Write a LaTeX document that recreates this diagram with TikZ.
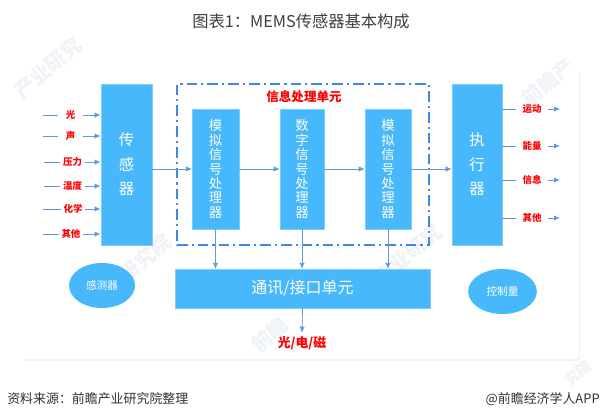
\documentclass[tikz,border=0pt]{standalone}
\usepackage{fontspec}
\setmainfont{Noto Sans CJK SC}
\usetikzlibrary{arrows.meta,shapes.geometric}
\definecolor{boxblue}{HTML}{47B8FB}
\definecolor{linkblue}{HTML}{5F97E2}
\definecolor{dashblue}{HTML}{4387E6}
\definecolor{faint}{HTML}{EDF2F9}
\definecolor{wm}{HTML}{EFF2F6}
\tikzset{
 x=0.75pt,y=-0.75pt,
 bluebox/.style={fill=boxblue,draw=boxblue!70!white,line width=0.4pt,inner sep=0pt,text=white,align=center},
 vtext/.style={font=\fontsize{10pt}{10.8pt}\selectfont},
 bigtext/.style={font=\fontsize{11.5pt}{18.4pt}\selectfont},
 oval/.style={ellipse,fill=boxblue,inner sep=0pt,text=white,font=\fontsize{8pt}{9pt}\selectfont},
 redlab/.style={text=red,font=\fontsize{7.1pt}{8pt}\selectfont\bfseries,inner sep=0pt},
 link/.style={draw=linkblue,line width=0.6pt},
 arrowlink/.style={link,-{Latex[length=4.5pt,width=4pt]}},
 watermark/.style={text=wm,rotate=40,font=\fontsize{15pt}{16pt}\selectfont\bfseries,inner sep=0pt},
}
\begin{document}
\begin{tikzpicture}
\useasboundingbox (0,0) rectangle (601,420);
\fill[white] (0,0) rectangle (601,420);
% frame lines
\coordinate (fa) at (26,360);\coordinate (fb) at (579,360);\coordinate (fc) at (579,72);
\draw[faint,line width=1.6pt] (fa) -- (fb);
\draw[faint,line width=0.7pt] (fb) -- (fc);
% watermarks
\node[watermark] (w1) at (48,68) {产业研究};
\node[watermark] (w3) at (548,82) {前瞻产};
\node[watermark] (w4) at (145,258) {研究院};
\node[watermark] (w5) at (408,255) {产业研究};
\node[watermark] (w6) at (270,335) {前瞻};
\node[watermark,font=\fontsize{11pt}{12pt}\selectfont\bfseries] (w7) at (578,373) {究院};
% title
\node[text=black!75,font=\fontsize{12.2pt}{14pt}\selectfont,inner sep=0pt] (title) at (301,21) {图表1：MEMS传感器基本构成};
% dashed frame
\node[draw=dashblue,line width=1.4pt,dash pattern=on 8pt off 3pt on 1.6pt off 3pt,minimum width=189pt,minimum height=120.75pt,inner sep=0pt] (frame) at (303,164.5) {};
\node[redlab,font=\fontsize{9.4pt}{10pt}\selectfont\bfseries] (frametitle) at (304,96.5) {信息处理单元};
% boxes
\node[bluebox,bigtext,minimum width=38.5pt,minimum height=121pt] (sens) at (126.5,164.5) {传\\感\\器};
\node[bluebox,vtext,minimum width=35pt,minimum height=90pt] (m1) at (215.5,169) {模\\拟\\信\\号\\处\\理\\器};
\node[bluebox,vtext,minimum width=33pt,minimum height=90pt] (d1) at (302,169) {数\\字\\信\\号\\处\\理\\器};
\node[bluebox,vtext,minimum width=34.5pt,minimum height=90pt] (m2) at (388,169) {模\\拟\\信\\号\\处\\理\\器};
\node[bluebox,bigtext,minimum width=37.5pt,minimum height=121pt] (act) at (477,164.5) {执\\行\\器};
\node[bluebox,font=\fontsize{12pt}{14pt}\selectfont,minimum width=191pt,minimum height=29pt] (comm) at (302.5,288.5) {通讯/接口单元};
\node[oval,minimum width=49.5pt,minimum height=33.75pt] (o1) at (102,285.5) {感测器};
\node[oval,minimum width=51.5pt,minimum height=33.75pt] (o2) at (502.5,291.5) {控制量};
% left inputs
\foreach \n/\t/\y/\xa/\lx in {a/光/115/43/70.5,b/声/136/43/70.5,c/压力/162/44/72.5,d/温度/186/44/72.5,e/化学/209/43/73,f/其他/234/43/71}{
  \coordinate (s\n) at (\xa,\y);
  \node[redlab,minimum width=18pt] (l\n) at (\lx,\y) {\t};
  \draw[link] (s\n) -- (l\n);
  \draw[arrowlink] (l\n) -- (l\n -| sens.west);
}
% right outputs
\foreach \n/\t/\y in {g/运动/109,h/能量/146,i/信息/180,j/其他/218}{
  \coordinate (e\n) at (560,\y);
  \node[redlab,minimum width=24pt] (r\n) at (532,\y) {\t};
  \draw[link] (act.east |- r\n) -- (r\n);
  \draw[arrowlink] (r\n) -- (e\n);
}
% chain
\draw[arrowlink] (sens.east |- m1.west) -- (m1.west);
\draw[arrowlink] (m1.east) -- (d1.west);
\draw[arrowlink] (d1.east) -- (m2.west);
\draw[arrowlink] (m2.east) -- (act.west |- m2.east);
% down to comm
\draw[arrowlink] (m1.south) -- (m1.south |- comm.north);
\draw[arrowlink] (d1.south) -- (d1.south |- comm.north);
\draw[arrowlink] (m2.south) -- (m2.south |- comm.north);
% output
\node[redlab,font=\fontsize{9.6pt}{10pt}\selectfont\bfseries] (out) at (302,343) {光/电/磁};
\draw[arrowlink] (comm.south) -- ([yshift=2.5pt]out.north);
% footer
\node[anchor=west,text=black!80,font=\fontsize{9.7pt}{11pt}\selectfont,inner sep=0pt] (src) at (7,399) {资料来源：前瞻产业研究院整理};
\node[anchor=east,text=black!80,font=\fontsize{9.7pt}{11pt}\selectfont,inner sep=0pt] (brand) at (600,399) {@前瞻经济学人APP};
\end{tikzpicture}
\end{document}
